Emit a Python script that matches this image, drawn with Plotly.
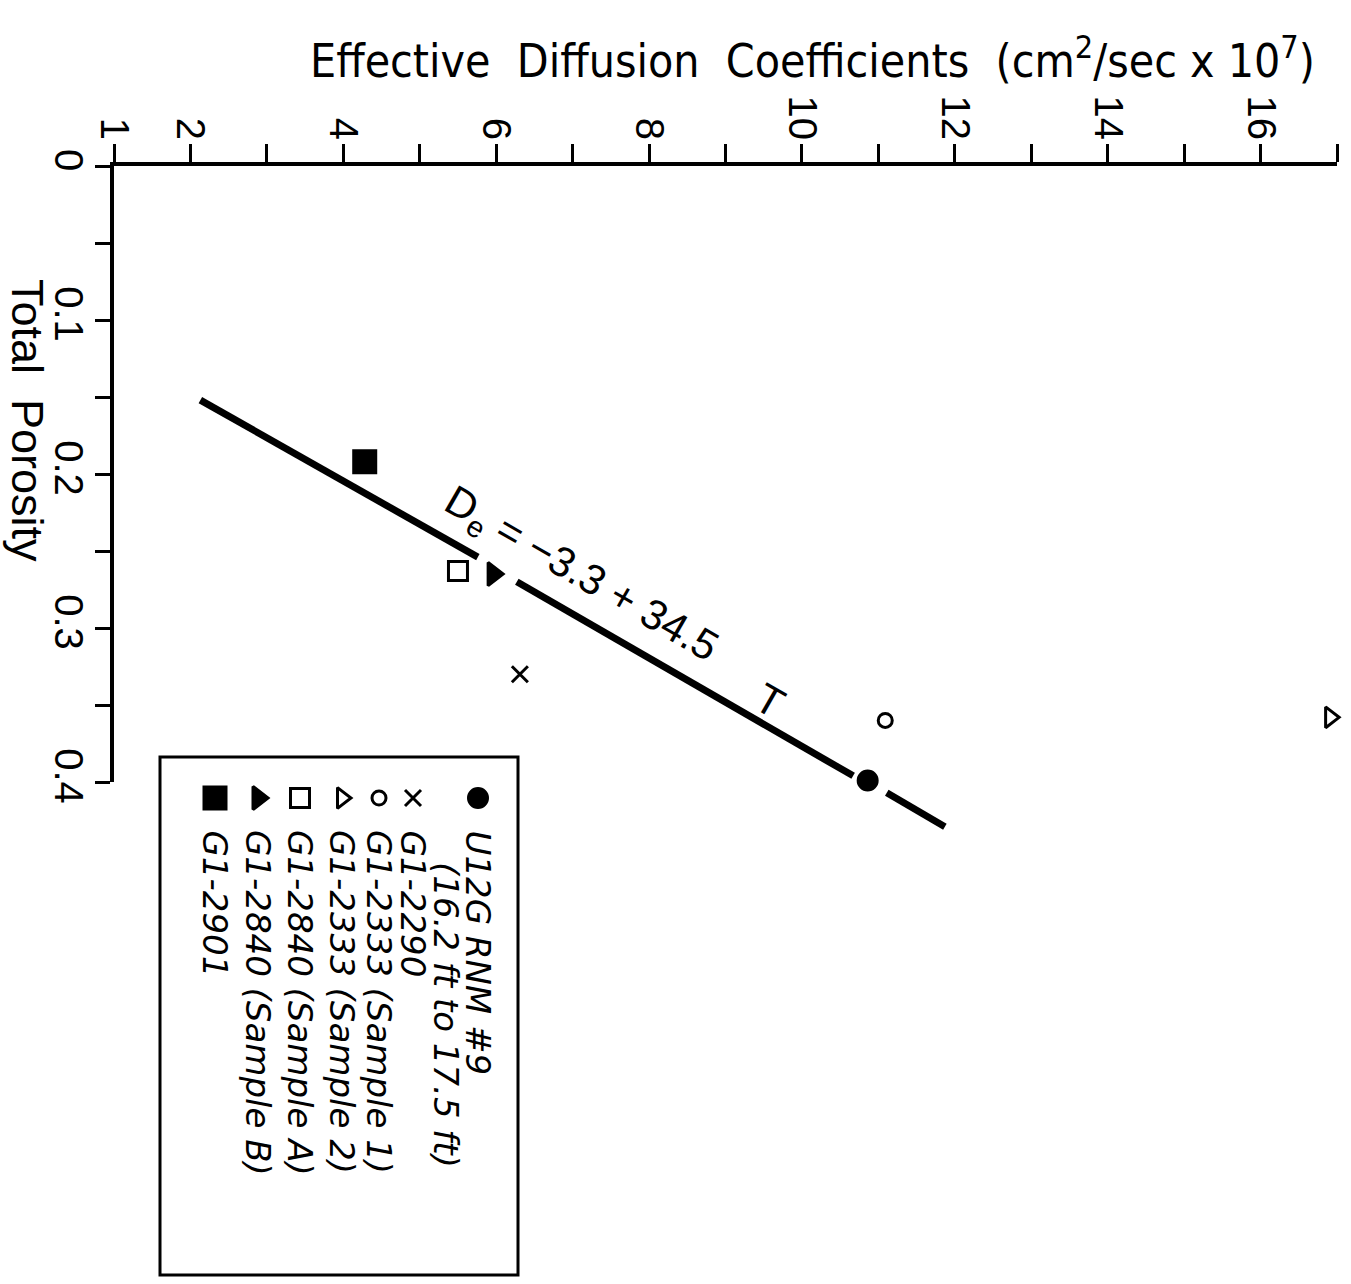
import plotly.graph_objects as go

# ---------------- data ----------------
series_names = ["U12G RNM #9", "G1-2290", "G1-2333 (Sample 1)", "G1-2333 (Sample 2)",
                "G1-2840 (Sample A)", "G1-2840 (Sample B)", "G1-2901"]
series_De = [10.86, 6.31, 11.09, 16.91, 5.50, 5.96, 4.28]
series_T = [0.399, 0.330, 0.360, 0.358, 0.263, 0.265, 0.192]
series_symbols = ["circle", "x-thin", "circle-open", "triangle-right-open",
                  "square-open", "triangle-right", "square"]
series_sizes = [19, 16, 14, 18, 19, 20, 22]

# fitted line De = -3.3 + 34.5 T (drawn with gaps as in the original)
fit_De = [2.13, 5.76, None, 6.27, 10.67, None, 11.11, 11.87]
fit_T = [0.152, 0.254, None, 0.270, 0.396, None, 0.407, 0.429]

x_ticks = list(range(1, 18))
x_ticktext = ["1" if v == 1 else (str(v) if v % 2 == 0 else "") for v in x_ticks]
y_ticks = [0, 0.05, 0.1, 0.15, 0.2, 0.25, 0.3, 0.35, 0.4]
y_ticktext = ["0", "", "0.1", "", "0.2", "", "0.3", "", "0.4"]

W, H = 1351, 1284
BLACK = "#000000"
FAM = "Liberation Sans, Arial, sans-serif"
LEGFAM = "DejaVu Sans, Verdana, sans-serif"

# plot-area geometry (pixels)
X0, X1 = 114, 1337
Y_TOP, Y_BOT = 166, 782
Y_EXT = 860  # hidden data layer extends below the drawn axis so marks are not clipped
y_range_max = 0.4
y_ext_max = y_range_max * (Y_EXT - Y_TOP) / (Y_BOT - Y_TOP)

fig = go.Figure()

fig.add_trace(go.Scatter(x=fit_De, y=fit_T, xaxis="x3", yaxis="y3", mode="lines",
                         line=dict(color=BLACK, width=7), showlegend=False,
                         connectgaps=False, hoverinfo="skip"))

for name, xv, yv, sym, sz in zip(series_names, series_De, series_T, series_symbols, series_sizes):
    fig.add_trace(go.Scatter(x=[xv], y=[yv], xaxis="x3", yaxis="y3", mode="markers", name=name,
                             cliponaxis=False,
                             marker=dict(symbol=sym, size=sz, color=BLACK,
                                         line=dict(color=BLACK, width=3)),
                             showlegend=False))

# ---------------- legend (drawn in a pixel-like overlay axis) ----------------
leg_cols = [478, 413, 379, 342, 300, 258, 215]
leg_marker_y = 798
for xc, sym, sz in zip(leg_cols, series_symbols, series_sizes):
    fig.add_trace(go.Scatter(x=[xc], y=[leg_marker_y], xaxis="x2", yaxis="y2",
                             mode="markers", showlegend=False, hoverinfo="skip",
                             cliponaxis=False,
                             marker=dict(symbol=sym, size=sz, color=BLACK,
                                         line=dict(color=BLACK, width=3))))

annotations = []
LEGFONT = dict(family=LEGFAM, size=34, color=BLACK)
for xc, name in zip(leg_cols, series_names):
    annotations.append(dict(x=xc, y=828, xref="x2", yref="y2", text="<i>" + name + "</i>",
                            textangle=90, xanchor="center", yanchor="top",
                            showarrow=False, font=LEGFONT))
annotations.append(dict(x=446, y=860, xref="x2", yref="y2", text="<i>(16.2 ft to 17.5 ft)</i>",
                        textangle=90, xanchor="center", yanchor="top",
                        showarrow=False, font=LEGFONT))

# equation text
EQFONT = dict(family=FAM, size=42, color=BLACK)
annotations.append(dict(x=7.1, y=0.266, xref="x", yref="y",
                        text="D<sub>e</sub> = −3.3 + 34.5", textangle=30,
                        showarrow=False, font=EQFONT))
annotations.append(dict(x=9.58, y=0.347, xref="x", yref="y", text="T", textangle=30,
                        showarrow=False, font=EQFONT))

# axis titles
annotations.append(dict(x=812 / W, y=1 - 58 / H, xref="paper", yref="paper",
                        text="Effective  Diffusion  Coefficients  (cm<sup>2</sup>/sec x 10<sup>7</sup>)",
                        showarrow=False, xanchor="center", yanchor="middle",
                        font=dict(family="Liberation Sans Narrow, DejaVu Sans Condensed, sans-serif",
                                  size=46, color=BLACK)))
annotations.append(dict(x=27 / W, y=1 - 420 / H, xref="paper", yref="paper",
                        text="Total  Porosity", textangle=90, showarrow=False,
                        xanchor="center", yanchor="middle",
                        font=dict(family=FAM, size=45, color=BLACK)))

shapes = [dict(type="rect", xref="x2", yref="y2", x0=160, x1=518, y0=757, y1=1275,
               line=dict(color=BLACK, width=3), fillcolor="rgba(0,0,0,0)")]

fig.update_layout(
    width=W, height=H,
    margin=dict(l=0, r=0, t=0, b=0),
    paper_bgcolor="white", plot_bgcolor="rgba(0,0,0,0)",
    showlegend=False,
    xaxis=dict(domain=[X0 / W, X1 / W], range=[1, 17], side="top",
               showline=True, linecolor=BLACK, linewidth=4, showgrid=False, zeroline=False,
               ticks="outside", ticklen=18, tickwidth=3, tickcolor=BLACK,
               tickvals=x_ticks, ticktext=x_ticktext, tickangle=90,
               tickfont=dict(family=FAM, size=40, color=BLACK),
               ticklabelstandoff=-10, automargin=False, anchor="y"),
    yaxis=dict(domain=[1 - Y_BOT / H, 1 - Y_TOP / H], range=[y_range_max, 0],
               showline=True, linecolor=BLACK, linewidth=4, showgrid=False, zeroline=False,
               ticks="outside", ticklen=15, tickwidth=3, tickcolor=BLACK,
               tickvals=y_ticks, ticktext=y_ticktext, tickangle=90,
               tickfont=dict(family=FAM, size=40, color=BLACK),
               ticklabelstandoff=-8, automargin=False, anchor="x"),
    xaxis3=dict(domain=[X0 / W, X1 / W], range=[1, 17], visible=False, anchor="y3",
                fixedrange=True),
    yaxis3=dict(domain=[1 - Y_EXT / H, 1 - Y_TOP / H], range=[y_ext_max, 0], visible=False,
                anchor="x3", fixedrange=True),
    xaxis2=dict(domain=[0, 1], range=[0, W], visible=False, anchor="y2", fixedrange=True),
    yaxis2=dict(domain=[0, 1], range=[H, 0], visible=False, anchor="x2", fixedrange=True),
    annotations=annotations,
    shapes=shapes,
)

fig.write_html("out.html")
